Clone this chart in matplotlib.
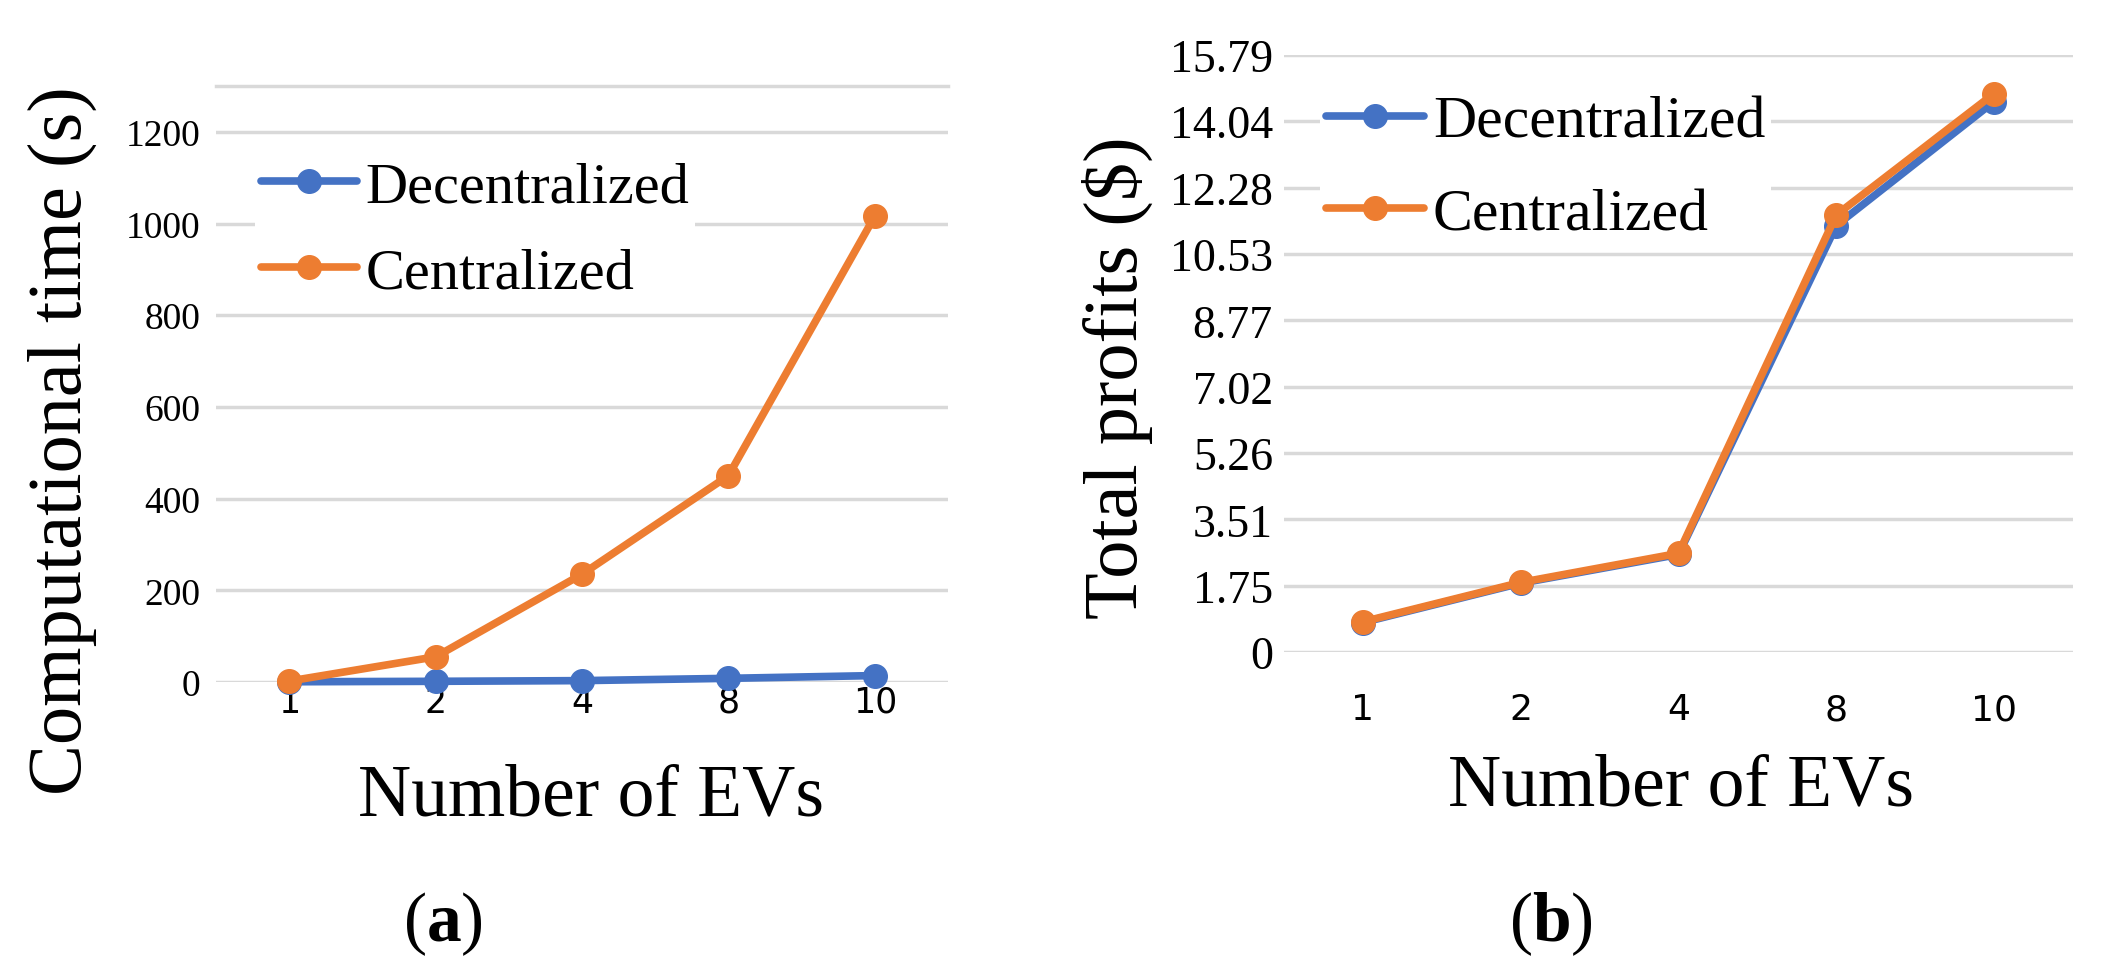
import matplotlib
matplotlib.use("Agg")
import matplotlib.pyplot as plt

# data
categories = ["1", "2", "4", "8", "10"]
time_decentralized = [0.5, 1.5, 3, 8, 14]
time_centralized = [2, 55, 235, 450, 1016]
time_ticks = [0, 200, 400, 600, 800, 1000, 1200]
profit_decentralized = [0.78, 1.82, 2.58, 11.28, 14.56]
profit_centralized = [0.80, 1.84, 2.61, 11.56, 14.77]
profit_ticks = [0, 1.75, 3.51, 5.26, 7.02, 8.77, 10.53, 12.28, 14.04, 15.79]
profit_ticklabels = ["0", "1.75", "3.51", "5.26", "7.02", "8.77", "10.53", "12.28", "14.04", "15.79"]

BLUE = "#4472C4"
ORANGE = "#ED7D31"
GRID = "#D9D9D9"
SERIF = ["Liberation Serif", "DejaVu Serif"]
SANS = ["Liberation Sans Narrow", "Lato", "DejaVu Sans"]

plt.rcParams["mathtext.fontset"] = "custom"
plt.rcParams["mathtext.rm"] = "Liberation Serif"
plt.rcParams["mathtext.bf"] = "Liberation Serif:bold"

W, H = 2106, 979
fig = plt.figure(figsize=(W / 100, H / 100), dpi=100)


def px_axes(x0, x1, y_top, y_bot):
    return fig.add_axes([x0 / W, 1 - y_bot / H, (x1 - x0) / W, (y_bot - y_top) / H])


def style(ax):
    for s in ax.spines.values():
        s.set_visible(False)
    ax.yaxis.grid(True, color=GRID, linewidth=2.5)
    ax.set_axisbelow(True)
    ax.tick_params(length=0)
    ax.set_xlim(-0.5, len(categories) - 0.5)
    ax.set_xticks(range(len(categories)))


def draw_lines(ax, dec, cen):
    x = range(len(categories))
    l1, = ax.plot(x, dec, color=BLUE, lw=5.5, marker="o", ms=17, clip_on=False,
                  solid_capstyle="round", label="Decentralized", zorder=3)
    l2, = ax.plot(x, cen, color=ORANGE, lw=5.5, marker="o", ms=17, clip_on=False,
                  solid_capstyle="round", label="Centralized", zorder=4)
    return [l1, l2]


# (a) computational time
ax1 = px_axes(216, 948, 87, 683)
style(ax1)
h = draw_lines(ax1, time_decentralized, time_centralized)
ax1.set_ylim(0, 1300)
ax1.set_yticks(time_ticks, [str(v) for v in time_ticks])
ax1.set_xticks(range(len(categories)), categories)
ax1.axhline(1300, color=GRID, lw=2.5, zorder=0, clip_on=False)
ax1.tick_params(axis="y", pad=11, labelsize=27, labelfontfamily="Liberation Serif")
ax1.tick_params(axis="x", pad=2, labelsize=25, labelfontfamily="Liberation Sans Narrow")
leg = ax1.legend(handles=h, loc="upper left", bbox_to_anchor=(255 / W, 1 - 156 / H),
                 bbox_transform=fig.transFigure, prop={"family": SERIF, "size": 42},
                 frameon=True, facecolor="white", edgecolor="none", framealpha=1,
                 fancybox=False, handlelength=1.64, handletextpad=0.15,
                 labelspacing=0.57, borderpad=0.1, borderaxespad=0)
leg.set_zorder(5)

fig.text(62 / W, 1 - 441 / H, "Computational time (s)", rotation=90, family=SERIF,
         fontsize=55, ha="center", va="center")
fig.text(591 / W, 1 - 798 / H, "Number of EVs", family=SERIF, fontsize=53,
         ha="center", va="center")
fig.text(443 / W, 1 - 924 / H, r"$(\mathbf{a})$", fontsize=50, ha="center", va="center")

# (b) total profits
ax2 = px_axes(1284, 2073, 56, 653)
style(ax2)
h = draw_lines(ax2, profit_decentralized, profit_centralized)
ax2.set_ylim(0, 15.79)
ax2.set_yticks(profit_ticks, profit_ticklabels)
ax2.set_xticks(range(len(categories)), categories)
ax2.tick_params(axis="y", pad=8, labelsize=33, labelfontfamily="Liberation Serif")
ax2.tick_params(axis="x", pad=29, labelsize=26, labelfontfamily="Liberation Sans Narrow")
leg = ax2.legend(handles=h, loc="upper left", bbox_to_anchor=(1320 / W, 1 - 90 / H),
                 bbox_transform=fig.transFigure, prop={"family": SERIF, "size": 43},
                 frameon=True, facecolor="white", edgecolor="none", framealpha=1,
                 fancybox=False, handlelength=1.64, handletextpad=0.15,
                 labelspacing=0.63, borderpad=0.1, borderaxespad=0)
leg.set_zorder(5)

fig.text(1117 / W, 1 - 378 / H, "Total profits ($)", rotation=90, family=SERIF,
         fontsize=55, ha="center", va="center")
fig.text(1681 / W, 1 - 788 / H, "Number of EVs", family=SERIF, fontsize=53,
         ha="center", va="center")
fig.text(1551 / W, 1 - 924 / H, r"$(\mathbf{b})$", fontsize=50, ha="center", va="center")

fig.savefig("out.png", dpi=100)
